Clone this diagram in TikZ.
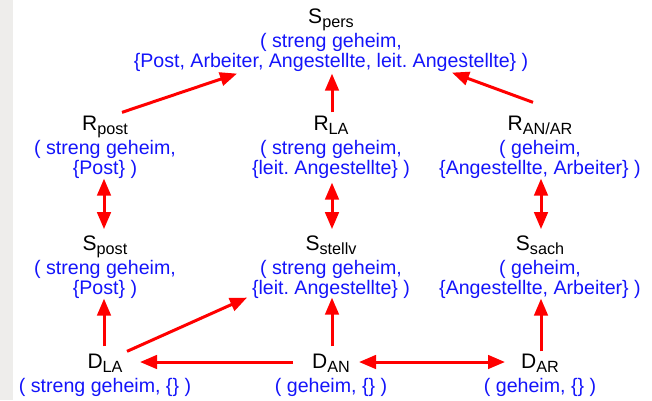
\documentclass[tikz,border=0pt]{standalone}
\usepackage{fontspec}
\setmainfont{Liberation Sans}
\usetikzlibrary{arrows.meta}
\definecolor{lblue}{RGB}{20,20,250}
\definecolor{lred}{RGB}{255,0,0}
\definecolor{lgray}{RGB}{238,237,235}
\newcommand{\ttl}[2]{{\fontsize{21}{20}\selectfont #1}\raisebox{-4.5pt}[0pt][0pt]{\fontsize{16.2}{16}\selectfont #2}}
\newcommand{\bl}[1]{{\color{lblue}#1}}
\newcommand{\vthree}[3]{\begin{tabular}[t]{@{}c@{}}#1\\[4pt]\bl{#2}\\\bl{#3}\end{tabular}}
\newcommand{\vtwo}[2]{\begin{tabular}[t]{@{}c@{}}#1\\[4pt]\bl{#2}\end{tabular}}
\frenchspacing
\begin{document}
\begin{tikzpicture}[x=1pt,y=-1pt,
  vtx/.style={anchor=base,inner sep=0pt,font=\fontsize{19.6}{20}\selectfont\frenchspacing},
  arr/.style={draw=lred,line width=3pt,-{Triangle[length=17pt,width=13.5pt]}},
  darr/.style={draw=lred,line width=3pt,{Triangle[length=17pt,width=13.5pt]}-{Triangle[length=17pt,width=13.5pt]}}]
\useasboundingbox (0,0) rectangle (652,400);
\fill[lgray] (0,0) rectangle (13,400);
\node[vtx] (Spers) at (331,23) {\vthree{\ttl{S}{pers}}{( streng geheim,}{\{Post, Arbeiter, Angestellte, leit. Angestellte\} )}};
\node[vtx] (Rpost) at (105,130) {\vthree{\ttl{R}{post}}{( streng geheim,}{\{Post\} )}};
\node[vtx] (RLA) at (331,130) {\vthree{\ttl{R}{LA}}{( streng geheim,}{\{leit. Angestellte\} )}};
\node[vtx] (RANAR) at (540,130) {\vthree{\ttl{R}{AN/AR}}{( geheim,}{\{Angestellte, Arbeiter\} )}};
\node[vtx] (Spost) at (105,250) {\vthree{\ttl{S}{post}}{( streng geheim,}{\{Post\} )}};
\node[vtx] (Sstellv) at (331,250) {\vthree{\ttl{S}{stellv}}{( streng geheim,}{\{leit. Angestellte\} )}};
\node[vtx] (Ssach) at (540,250) {\vthree{\ttl{S}{sach}}{( geheim,}{\{Angestellte, Arbeiter\} )}};
\node[vtx] (DLA) at (105,368) {\vtwo{\ttl{D}{LA}}{( streng geheim, \{\} )}};
\node[vtx] (DAN) at (331,368) {\vtwo{\ttl{D}{AN}}{( geheim, \{\} )}};
\node[vtx] (DAR) at (540,368) {\vtwo{\ttl{D}{AR}}{( geheim, \{\} )}};
% top level
\draw[arr] ([xshift=17pt,yshift=3pt]Rpost.north) -- ([xshift=-94pt]Spers.south);
\draw[arr] ([xshift=1pt,yshift=3pt]RLA.north) -- ([xshift=1pt]Spers.south);
\draw[arr] ([xshift=-7pt,yshift=13pt]RANAR.north) -- ([xshift=121pt,yshift=1pt]Spers.south);
% middle
\draw[darr] ([xshift=-1pt,yshift=2pt]Rpost.south) -- ([xshift=-1pt,yshift=6pt]Spost.north);
\draw[darr] ([xshift=1pt,yshift=-2pt]RLA.south) -- ([xshift=1pt,yshift=6pt]Sstellv.north);
\draw[darr] ([xshift=1pt,yshift=2pt]RANAR.south) -- ([xshift=1pt,yshift=6pt]Ssach.north);
% bottom
\draw[arr] ([xshift=-1pt,yshift=7pt]DLA.north) -- ([xshift=-1pt,yshift=2pt]Spost.south);
\draw[arr] ([xshift=22pt,yshift=2pt]DLA.north) -- ([xshift=-84pt,yshift=3pt]Sstellv.south);
\draw[arr] ([xshift=1pt,yshift=7pt]DAN.north) -- ([xshift=1pt,yshift=3pt]Sstellv.south);
\draw[arr] ([xshift=1pt,yshift=2pt]DAR.north) -- ([xshift=1pt,yshift=2pt]Ssach.south);
\draw[arr] ([xshift=-38pt,yshift=6pt]DAN.base) -- ([xshift=35pt,yshift=6pt]DLA.base);
\draw[darr] ([xshift=28pt,yshift=6pt]DAN.base) -- ([xshift=-35pt,yshift=6pt]DAR.base);
\end{tikzpicture}
\end{document}
